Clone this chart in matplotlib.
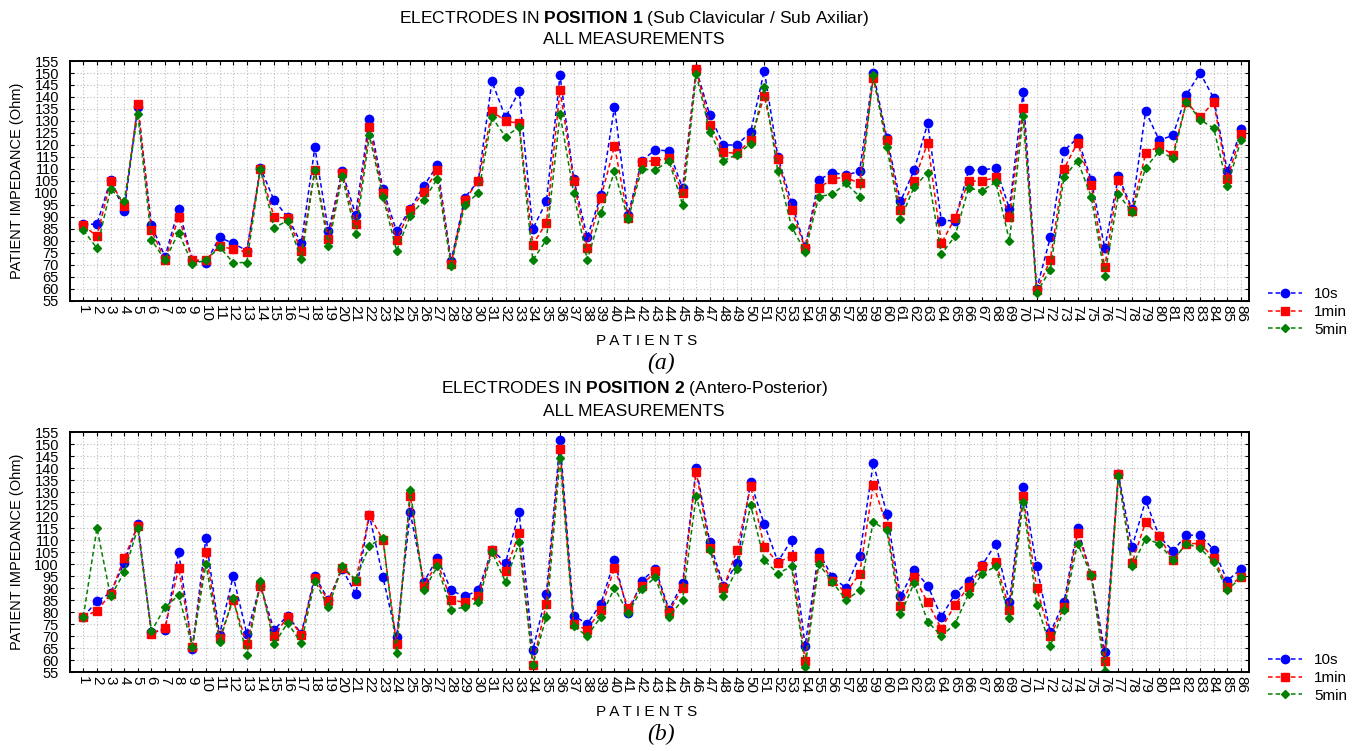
import matplotlib
matplotlib.use("Agg")
import matplotlib.pyplot as plt

plt.rcParams['font.family'] = ['Liberation Sans', 'DejaVu Sans']
plt.rcParams['mathtext.fontset'] = 'custom'
plt.rcParams['mathtext.rm'] = 'Liberation Sans'
plt.rcParams['mathtext.bf'] = 'Liberation Sans:bold'

patients = list(range(1, 87))
series_labels = ["10s", "1min", "5min"]

a_10s = [87, 87, 105.5, 92.5, 136, 86.5, 73.5, 93.5, 72, 71, 81.5, 79, 76, 110.5, 97, 90, 79, 119, 84, 109,
         91, 131, 101.5, 84, 93.5, 103, 111.5, 71.5, 98, 105, 146.5, 131.5, 142.5, 85, 96.5, 149, 106, 81.5, 99, 136,
         91, 113.5, 118, 117.5, 102, 151.5, 132.5, 120, 120, 125.5, 151, 115, 96, 77.5, 105.5, 108.5, 107.5, 109, 150, 123,
         96.5, 109.5, 129, 88.5, 88.5, 109.5, 109.5, 110.5, 93.5, 142, 60, 81.5, 117.5, 123, 105.5, 77, 107, 93.5, 134, 122,
         124, 141, 150, 139.5, 109, 126.5]
a_1min = [86.5, 82, 105, 94.5, 137, 84.5, 72, 90, 72, 72, 78, 76.5, 75.5, 110, 90, 89.5, 76, 109.5, 81, 108.5,
          87, 127.5, 100, 80.5, 93, 100.5, 109.5, 70.5, 97, 105, 134, 130, 129, 78.5, 87.5, 143, 105, 77, 98, 119.5,
          89.5, 113, 113.5, 114.5, 100, 151.5, 128.5, 117, 116.5, 122, 140.5, 114, 93, 77, 102, 106, 106.5, 104, 148, 122,
          93, 105, 121, 79, 89.5, 105, 105, 106.5, 90, 135.5, 59.5, 72, 110, 121, 103.5, 69, 105.5, 92.5, 116.5, 119.5,
          116, 138, 131.5, 138, 106, 124.5]
a_5min = [84.5, 77, 101.5, 96.5, 133, 80.5, 72, 83.5, 70.5, 72, 77.5, 71, 71, 110, 85.5, 88.5, 72.5, 109.5, 78, 107,
          83, 124, 98.5, 76, 90.5, 97, 106, 69.5, 95, 100, 131.5, 123.5, 127.5, 72, 80.5, 133, 100, 72, 91.5, 109,
          89, 110, 109.5, 113.5, 95, 149.5, 125.5, 113.5, 116, 120.5, 144, 109, 86, 75.5, 98.5, 99.5, 104, 98.5, 149, 119,
          89, 102.5, 108.5, 74.5, 82, 102, 101, 104.5, 80, 132, 58.5, 68, 106.5, 113.5, 98.5, 65.5, 99.5, 92, 110.5, 117.5,
          114.5, 138, 130.5, 127, 103, 122]

b_10s = [78, 84.5, 88, 100.5, 116.5, 71.5, 72.5, 105, 64.5, 111, 70.5, 95, 71, 91, 72.5, 78.5, 71, 95, 85, 98,
         87.5, 120.5, 94.5, 69.5, 121.5, 92.5, 102.5, 89, 86.5, 89, 106, 100.5, 121.5, 64, 87.5, 151.5, 78.5, 75, 83.5, 101.5,
         79.5, 93, 98, 81, 92, 140, 109, 91, 100.5, 134, 116.5, 101, 110, 66, 105, 94.5, 90, 103.5, 142, 121,
         86.5, 97.5, 91, 78, 87.5, 93, 99.5, 108.5, 84, 132, 99, 71.5, 84, 115, 95.5, 63.5, 137.5, 107, 126.5, 111.5,
         105.5, 112, 112, 106, 93, 98]
b_1min = [78, 80.5, 87.5, 102.5, 116, 71, 73.5, 98.5, 65.5, 105, 69, 85, 66.5, 91, 70, 78, 70.5, 94, 84.5, 98.5,
          93, 120.5, 110, 66.5, 128.5, 91, 100.5, 85, 84, 86.5, 106, 97, 113, 58, 83.5, 148, 75, 72.5, 81, 98.5,
          81.5, 91, 97, 80, 90, 138.5, 106.5, 90, 106, 132.5, 107, 100.5, 103.5, 59.5, 102.5, 93, 88, 96, 133, 116,
          82.5, 94.5, 84, 73, 83, 90.5, 99, 101, 81, 128.5, 90, 70, 82, 113, 95.5, 59.5, 137.5, 100.5, 117.5, 111.5,
          101.5, 108.5, 108.5, 102.5, 90.5, 94.5]
b_5min = [78, 115, 86.5, 96.5, 115, 72, 82, 87, 65.5, 100, 67.5, 86, 62, 93, 66.5, 75.5, 67, 93, 82, 99,
          93.5, 107.5, 111, 63, 131, 89, 99, 81, 82, 84, 105, 92.5, 109, 58, 78, 144, 74, 70, 78, 90,
          79.5, 89.5, 94.5, 78, 85, 128.5, 106, 86.5, 98, 124.5, 101.5, 96, 99, 57, 100, 92.5, 85, 89, 117.5, 114,
          79, 92, 76, 70, 75, 87.5, 96, 99, 77.5, 126, 83, 66, 81, 108.5, 95.5, 55.5, 136.5, 99, 110.5, 108.5,
          101.5, 108.5, 106.5, 101, 89, 94.5]

yticks = list(range(55, 160, 5))

W, H = 1356, 751
fig = plt.figure(figsize=(W / 100, H / 100), dpi=100)

styles = [dict(color='#0000ff', marker='o', markersize=6),
          dict(color='#ff0000', marker='s', markersize=6),
          dict(color='#008000', marker='D', markersize=4)]


def fx(px):
    return px / W


def fy(py):
    return 1 - py / H


def make_panel(top_px, bottom_px, data, title_rich, tag, legend_top_px):
    ax = fig.add_axes([fx(70), fy(bottom_px), fx(1249 - 70), (bottom_px - top_px) / H])
    lines = []
    for vals, st, lab in zip(data, styles, series_labels):
        ln, = ax.plot(patients, vals, linestyle=(0, (3, 2)), linewidth=1.1,
                      markeredgecolor=st['color'], label=lab, **st)
        lines.append(ln)
    ax.set_xlim(0.02, 86.59)
    ax.set_ylim(55, 155)
    ax.set_yticks(yticks)
    ax.set_yticklabels([str(v) for v in yticks], fontsize=10.5)
    ax.set_xticks(patients)
    ax.set_xticklabels([str(p) for p in patients], rotation=270, fontsize=11)
    ax.tick_params(direction='in', length=3, width=0.8, top=True, right=True, pad=3)
    ax.tick_params(axis='y', pad=8)
    ax.grid(True, linestyle=(0, (1, 2)), color='#bdbdbd', linewidth=0.8)
    for s in ax.spines.values():
        s.set_linewidth(1.4)
    fig.text(fx(634), fy(top_px - 43), title_rich, ha='center', va='center', fontsize=12.5)
    fig.text(fx(634), fy(top_px - 21), "ALL MEASUREMENTS", ha='center', va='center', fontsize=12.5)
    fig.text(fx(17), fy((top_px + bottom_px) / 2), "PATIENT IMPEDANCE (Ohm)", rotation=90,
             ha='center', va='center', fontsize=10.5)
    fig.text(fx(647), fy(bottom_px + 40), "P A T I E N T S", ha='center', va='center', fontsize=11)
    fig.text(fx(661), fy(bottom_px + 62), tag, ha='center', va='center', fontsize=17,
             family='Liberation Serif', style='italic')
    fig.legend(handles=lines, loc='upper left', bbox_to_anchor=(fx(1262), fy(legend_top_px)),
               frameon=False, fontsize=11, handlelength=2.2, labelspacing=0.25,
               handletextpad=0.8, borderaxespad=0)
    return ax


make_panel(61, 301, [a_10s, a_1min, a_5min],
           r"ELECTRODES IN $\bf{POSITION\ 1}$ (Sub Clavicular / Sub Axiliar)", "(a)", 281)
make_panel(432, 672, [b_10s, b_1min, b_5min],
           r"ELECTRODES IN $\bf{POSITION\ 2}$ (Antero-Posterior)", "(b)", 647)

fig.savefig("out.png", dpi=100)
